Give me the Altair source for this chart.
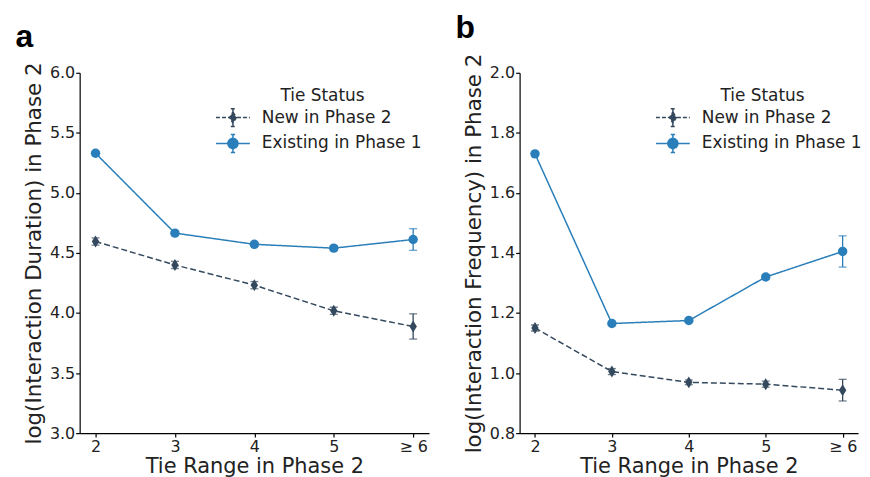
import altair as alt
import pandas as pd

ranges = ["2", "3", "4", "5", "≥ 6"]
statuses = ["New in Phase 2", "Existing in Phase 1"]
colors = ["#34495e", "#2a7fba"]

dur_new = [4.595, 4.40, 4.232, 4.018, 3.888]
dur_new_err = [0.03, 0.03, 0.03, 0.03, 0.105]
dur_exist = [5.33, 4.665, 4.572, 4.54, 4.612]
dur_exist_err = [0.015, 0.015, 0.015, 0.02, 0.09]

freq_new = [1.15, 1.005, 0.969, 0.963, 0.943]
freq_new_err = [0.01, 0.01, 0.008, 0.01, 0.036]
freq_exist = [1.73, 1.165, 1.175, 1.32, 1.405]
freq_exist_err = [0.005, 0.005, 0.005, 0.008, 0.052]

FONT = "DejaVu Sans"

# legend glyphs (unit = 9 px): line + errorbar + marker
NEW_PATH = ("M-1.89,0H-0.45M0.45,0H1.89M0,-1V-0.62M0,0.62V1M-0.24,-1H0.24M-0.24,1H0.24"
            "M0,-0.62L0.38,0L0,0.62L-0.38,0Z")
EX_PATH = ("M-1.89,0H1.89M0,-1V1M-0.24,-1H0.24M-0.24,1H0.24"
           "M0.56,0A0.56,0.56,0,1,1,-0.56,0A0.56,0.56,0,1,1,0.56,0Z")
DIAMOND = "M0,-1L0.62,0L0,1L-0.62,0Z"
marker_sizes = [144, 90]
dashes = [[6, 3], [1, 0]]


def make_df(new, new_err, ex, ex_err):
    rows = []
    for s, vals, errs in [(statuses[0], new, new_err), (statuses[1], ex, ex_err)]:
        for r, v, e in zip(ranges, vals, errs):
            rows.append({"range": r, "status": s, "value": v, "lo": v - e, "hi": v + e})
    return pd.DataFrame(rows)


is_new = "datum.value === 'New in Phase 2'"
legend = alt.Legend(
    orient="none", legendX=144, legendY=15,
    title="Tie Status", titleAnchor="middle", titleFontSize=17, titleFontWeight="normal",
    titleFont=FONT, titleColor="#222222", titlePadding=3,
    labelFontSize=17, labelFont=FONT, labelColor="#222222", labelOffset=19, labelLimit=0,
    symbolSize=324, rowPadding=2, symbolStrokeWidth=1.5, symbolOpacity=1,
    symbolType={"expr": is_new + " ? '" + NEW_PATH + "' : '" + EX_PATH + "'"},
    symbolDash={"expr": is_new + " ? [4, 2] : [1, 0]"},
    symbolFillColor={"expr": is_new + " ? '" + colors[0] + "' : '" + colors[1] + "'"},
    symbolStrokeColor={"expr": is_new + " ? '" + colors[0] + "' : '" + colors[1] + "'"},
)


def panel(df, letter, ytitle, domain, ticks, width):
    x = alt.X("range:O", sort=ranges, scale=alt.Scale(type="point", padding=0.2),
              axis=alt.Axis(title="Tie Range in Phase 2", labelAngle=0))
    y_scale = alt.Scale(domain=domain, nice=False, zero=False)
    y_val = alt.Y("value:Q", scale=y_scale,
                  axis=alt.Axis(title=ytitle, values=ticks, format=".1f"))
    layers = []
    for i, s in enumerate(statuses):
        sub = alt.Chart(df).transform_filter(alt.datum.status == s)
        c = colors[i]
        layers.append(sub.mark_line(strokeWidth=1.5, color=c, strokeDash=dashes[i]).encode(
            x=x, y=y_val))
        layers.append(sub.mark_rule(strokeWidth=1.3, color=c).encode(
            x=x, y=alt.Y("lo:Q", scale=y_scale), y2="hi:Q"))
        layers.append(sub.mark_tick(thickness=1.3, size=8, color=c).encode(
            x=x, y=alt.Y("lo:Q", scale=y_scale)))
        layers.append(sub.mark_tick(thickness=1.3, size=8, color=c).encode(
            x=x, y=alt.Y("hi:Q", scale=y_scale)))
    # markers; the circle layer also carries the legend through the colour scale
    layers.append(alt.Chart(df).transform_filter(alt.datum.status == statuses[0]).mark_point(
        filled=True, opacity=1, shape=DIAMOND, size=marker_sizes[0], color=colors[0]).encode(
        x=x, y=alt.Y("value:Q", scale=y_scale)))
    layers.append(alt.Chart(df).transform_filter(alt.datum.status == statuses[1]).mark_point(
        filled=True, opacity=1, size=marker_sizes[1]).encode(
        x=x, y=alt.Y("value:Q", scale=y_scale),
        color=alt.Color("status:N", scale=alt.Scale(domain=statuses, range=colors),
                        sort=statuses, legend=legend)))
    return alt.layer(*layers).properties(
        width=width, height=362,
        title=alt.TitleParams(letter, anchor="start", frame="bounds", fontSize=32,
                              fontWeight="bold", font="Liberation Sans", dx=-8,
                              offset=8, color="black"),
    )


left = panel(make_df(dur_new, dur_new_err, dur_exist, dur_exist_err), "a",
             "log(Interaction Duration) in Phase 2", [3, 6],
             [3.0, 3.5, 4.0, 4.5, 5.0, 5.5, 6.0], 351)
right = panel(make_df(freq_new, freq_new_err, freq_exist, freq_exist_err), "b",
              "log(Interaction Frequency) in Phase 2", [0.8, 2.0],
              [0.8, 1.0, 1.2, 1.4, 1.6, 1.8, 2.0], 340)

chart = alt.hconcat(left, right, spacing=26).resolve_scale(
    color="independent").resolve_legend(color="independent").properties(
    padding={"left": 7, "top": 2, "right": 0, "bottom": 0}
).configure_view(stroke=None).configure_axis(
    labelFont=FONT, titleFont=FONT, labelFontSize=16,
    labelColor="#222222", titleColor="#222222", titleFontWeight="normal",
    domainColor="black", tickColor="black", domainWidth=1.2, tickWidth=1.2, tickSize=4,
    labelPadding=1, grid=False,
).configure_axisY(titlePadding=4, titleFontSize=21.5).configure_axisX(
    titlePadding=2, titleFontSize=21)

chart.save("out.html", embed_options={"renderer": "svg", "actions": False})
